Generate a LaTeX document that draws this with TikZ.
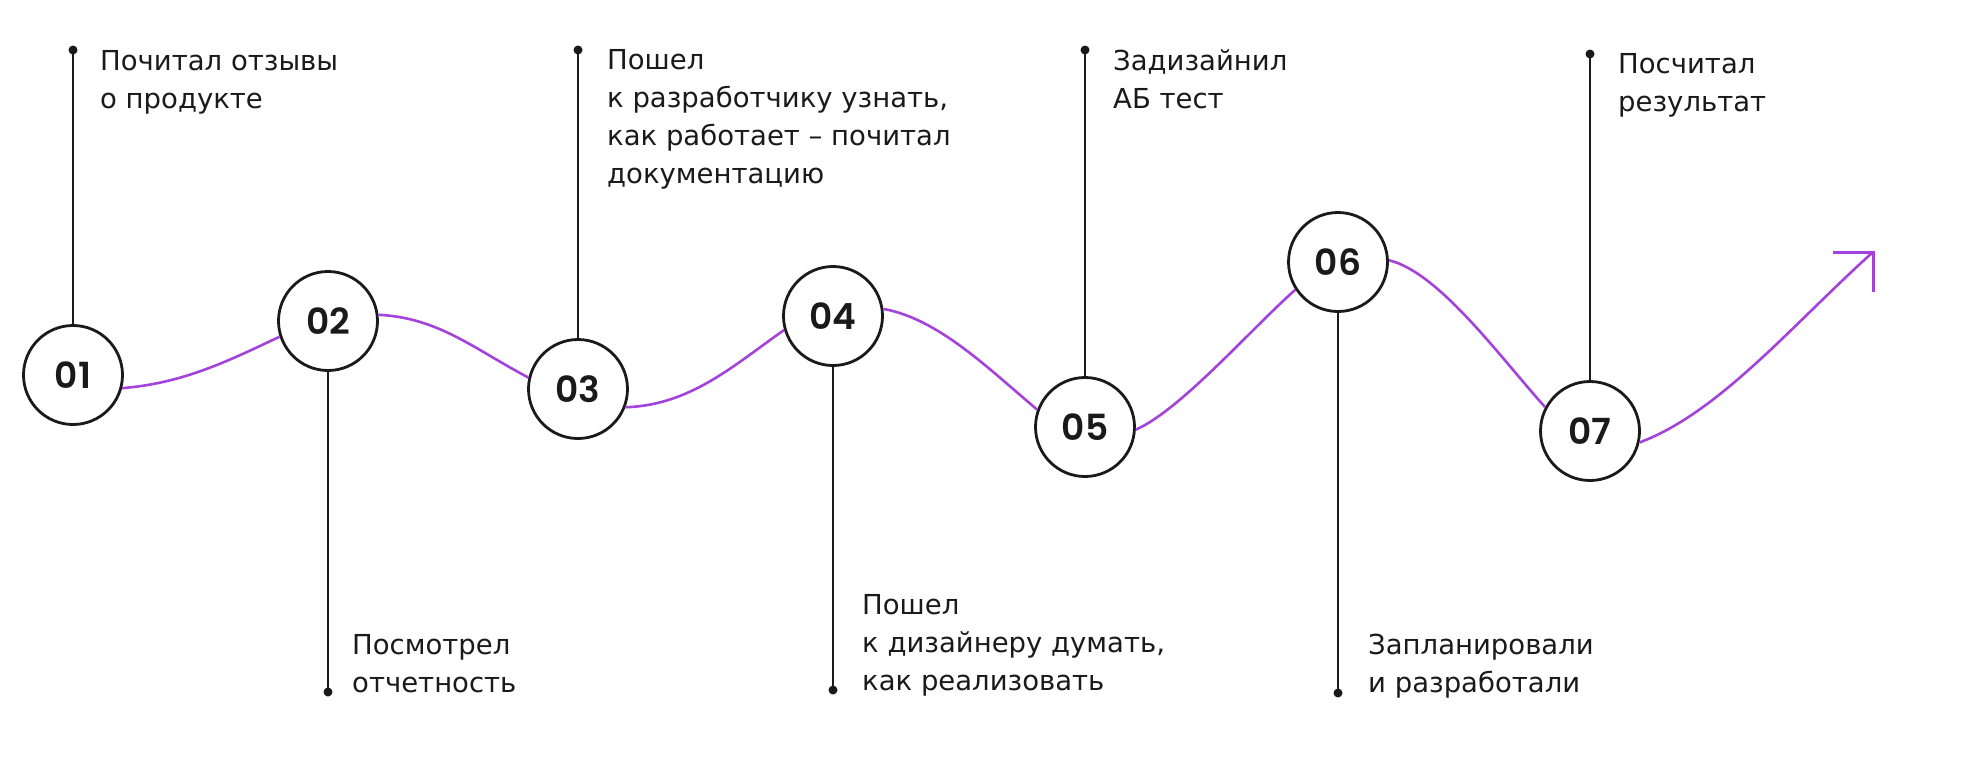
\documentclass[tikz,border=0pt]{standalone}
\usepackage{fontspec}
\setmainfont{DejaVu Sans}
\newfontfamily\numfont{Poppins SemiBold}
\definecolor{vio}{HTML}{A443DC}
\definecolor{ink}{HTML}{1A1A1A}
\begin{document}
\begin{tikzpicture}[x=1pt,y=-1pt,
  stepcirc/.style={circle,draw=ink,line width=2.8pt,fill=white,minimum size=99pt,inner sep=0pt,font=\numfont\fontsize{36}{36}\selectfont,text=ink},
  stem/.style={draw=ink,line width=2.4pt},
  wave/.style={draw=vio,line width=2.6pt},
  lbl/.style={anchor=base west,inner sep=0pt,align=left,font=\fontsize{27.5}{38}\selectfont,text=ink},
  dotc/.style={circle,fill=ink,inner sep=0pt,minimum size=9pt}]
\useasboundingbox (0,0) rectangle (1976,764);
% circles
\node[stepcirc] (c1) at (73,375) {01};
\node[stepcirc] (c2) at (328,321) {02};
\node[stepcirc] (c3) at (578,389) {03};
\node[stepcirc] (c4) at (833,316) {04};
\node[stepcirc] (c5) at (1085,427) {05};
\node[stepcirc] (c6) at (1338,262) {06};
\node[stepcirc] (c7) at (1590,431) {07};
\coordinate (tip) at (1873,252);
% dots
\node[dotc] (d1) at (73,50) {};
\node[dotc] (d2) at (328,692) {};
\node[dotc] (d3) at (578,50) {};
\node[dotc] (d4) at (833,690) {};
\node[dotc] (d5) at (1085,50) {};
\node[dotc] (d6) at (1338,693) {};
\node[dotc] (d7) at (1590,54) {};
% stems
\draw[stem] (d1.center) -- (c1.north);
\draw[stem] (c2.south) -- (d2.center);
\draw[stem] (d3.center) -- (c3.north);
\draw[stem] (c4.south) -- (d4.center);
\draw[stem] (d5.center) -- (c5.north);
\draw[stem] (c6.south) -- (d6.center);
\draw[stem] (d7.center) -- (c7.north);
% wave
\draw[wave] (c1.-15) .. controls +(60,-5) and +(-55,26) .. (c2.-162);
\draw[wave] (c2.7) .. controls +(60,3) and +(-55,-29) .. (c3.167);
\draw[wave] (c3.-21) .. controls +(65,-2) and +(-50,35) .. (c4.-164);
\draw[wave] (c4.8) .. controls +(55,10) and +(-50,-42) .. (c5.160);
\draw[wave] (c5.-3) .. controls +(45,-20) and +(-45,40) .. (c6.-147);
\draw[wave] (c6.2) .. controls +(50,12) and +(-45,-50) .. (c7.152);
\draw[wave] (c7.-13) .. controls +(80,-30) and +(-80,72) .. (tip);
\draw[wave,line width=3pt,miter limit=10] (tip) +(-40,0) -- (tip) -- +(0,40);
% labels (anchored at the baseline of the last line)
\node[lbl] (t1) at (100,108) {Почитал отзывы\\о продукте};
\node[lbl] (t2) at (352,692) {Посмотрел\\отчетность};
\node[lbl] (t3) at (607,183) {Пошел\\к разработчику узнать,\\как работает – почитал\\документацию};
\node[lbl] (t4) at (862,690) {Пошел\\к дизайнеру думать,\\как реализовать};
\node[lbl] (t5) at (1113,108) {Задизайнил\\АБ тест};
\node[lbl] (t6) at (1368,692) {Запланировали\\и разработали};
\node[lbl] (t7) at (1618,111) {Посчитал\\результат};
\end{tikzpicture}
\end{document}
